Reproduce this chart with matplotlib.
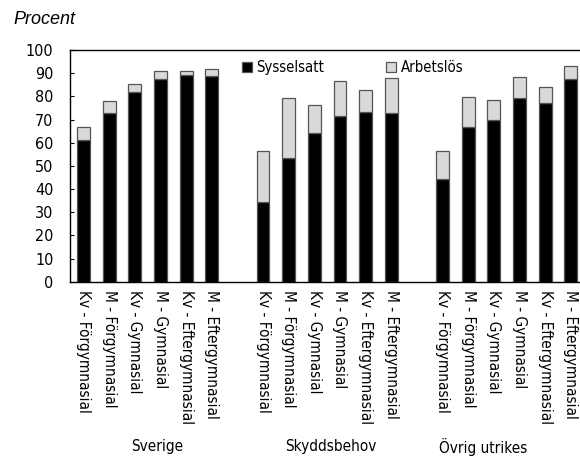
import matplotlib
matplotlib.use("Agg")
import matplotlib.pyplot as plt
import numpy as np

plt.rcParams['font.family'] = ['DejaVu Sans']
plt.rcParams['font.stretch'] = 'condensed'

groups = ["Sverige", "Skyddsbehov", "Övrig utrikes"]
categories = ["Kv - Förgymnasial", "M - Förgymnasial", "Kv - Gymnasial",
              "M - Gymnasial", "Kv - Eftergymnasial", "M - Eftergymnasial"]

sysselsatt = {
    "Sverige":       [61.0, 72.7, 82.0, 87.5, 89.2, 88.8],
    "Skyddsbehov":   [34.3, 53.5, 64.3, 71.6, 73.4, 72.7],
    "Övrig utrikes": [44.3, 66.9, 69.9, 79.2, 77.0, 87.5],
}
totalt = {
    "Sverige":       [66.6, 78.0, 85.2, 90.9, 91.1, 91.7],
    "Skyddsbehov":   [56.4, 79.2, 76.1, 86.6, 82.6, 87.9],
    "Övrig utrikes": [56.5, 79.8, 78.3, 88.3, 84.2, 93.1],
}
yticks = list(range(0, 101, 10))

fig = plt.figure(figsize=(5.8, 4.59), dpi=100)
ax = fig.add_axes([70/580, 1 - 281.7/459, 1 - 70/580, (281.7 - 50)/459])

xs, labels, emp, unemp = [], [], [], []
for gi, g in enumerate(groups):
    for ci, c in enumerate(categories):
        xs.append(gi * 7 + ci)
        labels.append(c)
        emp.append(sysselsatt[g][ci])
        unemp.append(totalt[g][ci] - sysselsatt[g][ci])
xs = np.array(xs)
emp = np.array(emp)
unemp = np.array(unemp)

w = 0.5
ax.bar(xs, emp, w, color="black", edgecolor="#555555", linewidth=0.9, label="Sysselsatt", zorder=2)
ax.bar(xs, unemp, w, bottom=emp, color="#d9d9d9", edgecolor="#555555", linewidth=0.9, label="Arbetslös", zorder=2)

fs = 11
ax.set_xlim(-0.527, 19.36)
ax.set_ylim(0, 100)
ax.set_yticks(yticks)
ax.set_yticklabels([str(v) for v in yticks], fontsize=11.5)
ax.set_xticks(xs)
ax.set_xticklabels(labels, rotation=270, fontsize=fs, va="top", ha="center")
ax.tick_params(axis="x", length=0, pad=6)
ax.tick_params(axis="y", direction="in", length=3, width=0.8, pad=12)
for s in ["left", "top", "bottom"]:
    ax.spines[s].set_linewidth(1.0)
    ax.spines[s].set_color("black")
ax.spines["right"].set_visible(False)

leg = ax.legend(loc="upper left", bbox_to_anchor=((230 - 70) / 510, 1.008), ncol=2, frameon=False,
                fontsize=10.7, handlelength=0.65, handleheight=0.7, handletextpad=0.3,
                columnspacing=4.2, borderpad=0.3)

fig.text(13/580, 1 - 19/459, "Procent", fontsize=13, style="italic",
         family=["Liberation Sans", "DejaVu Sans"], stretch="normal", va="center", ha="left")

for name, xc in zip(groups, [157, 331, 483]):
    fig.text(xc/580, 1 - 447/459, name, fontsize=fs, ha="center", va="center")

fig.savefig("out.png", dpi=100)
